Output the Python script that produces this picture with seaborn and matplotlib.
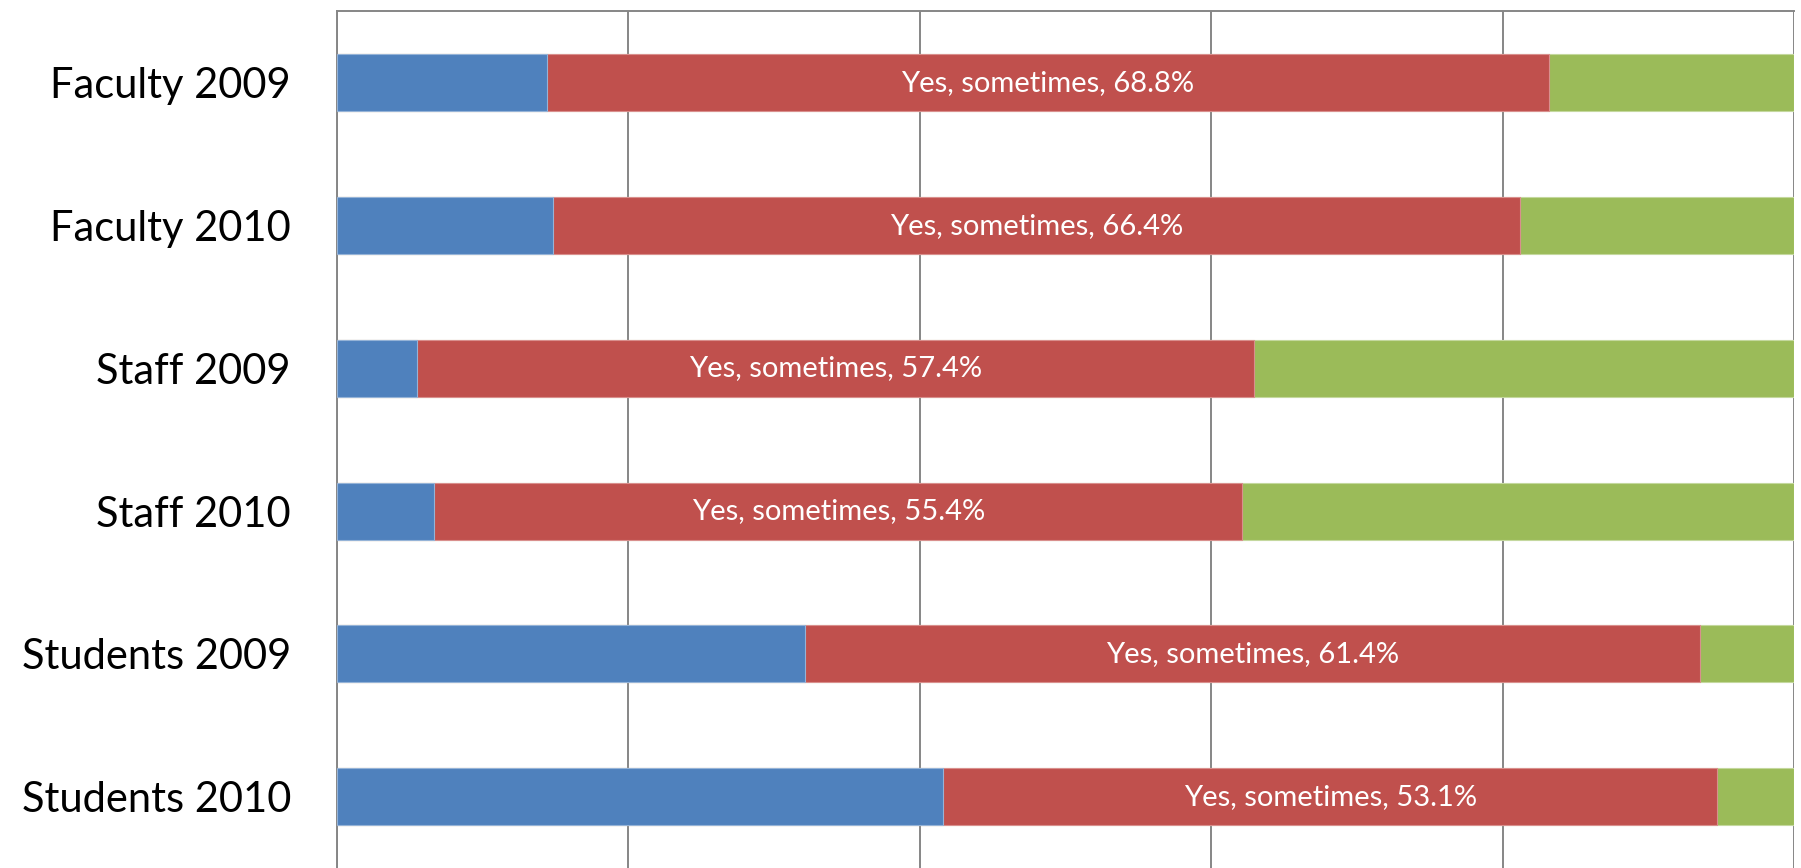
import pandas as pd
import matplotlib
matplotlib.use("Agg")
import matplotlib.pyplot as plt
import seaborn as sns

sns.set_theme(style="white")
plt.rcParams['font.family'] = ['Lato', 'DejaVu Sans']

# data (percent of respondents)
groups = ['Faculty 2009', 'Faculty 2010', 'Staff 2009', 'Staff 2010',
          'Students 2009', 'Students 2010']
no_pct = [14.4, 14.8, 5.5, 6.7, 32.1, 41.6]
sometimes_pct = [68.8, 66.4, 57.4, 55.4, 61.4, 53.1]
often_pct = [16.8, 18.8, 37.1, 37.9, 6.5, 5.3]

df = pd.DataFrame({'group': groups, 'no': no_pct,
                   'sometimes': sometimes_pct, 'often': often_pct})
df['upto_sometimes'] = df['no'] + df['sometimes']
df['total'] = df['upto_sometimes'] + df['often']

blue, red, green = '#4F81BD', '#C0504D', '#9BBB59'
grid_col = '#868686'

fig = plt.figure(figsize=(18.01, 8.68), dpi=100)
ax = fig.add_axes([0.187, 0.0, 0.8093, 0.9868])

# stack by drawing cumulative totals back to front
sns.barplot(data=df, x='total', y='group', orient='h', color=green,
            width=0.4, saturation=1, edgecolor='#c4d89e', linewidth=0.8, ax=ax, zorder=3)
sns.barplot(data=df, x='upto_sometimes', y='group', orient='h', color=red,
            width=0.4, saturation=1, edgecolor='#d98f8d', linewidth=0.8, ax=ax, zorder=3)
sns.barplot(data=df, x='no', y='group', orient='h', color=blue,
            width=0.4, saturation=1, edgecolor='#95b3d7', linewidth=0.8, ax=ax, zorder=3)

for i, row in df.iterrows():
    ax.text(row['no'] + row['sometimes'] / 2, i,
            f"Yes, sometimes, {row['sometimes']}%",
            ha='center', va='center', color='white', fontsize=21, zorder=4)

ax.set_xlim(0, 100)
ax.set_ylim(5.5, -0.5)
ax.set_xticks([0, 20, 40, 60, 80, 100])
ax.xaxis.grid(True, color=grid_col, linewidth=1.4, zorder=0)
ax.set_axisbelow(True)
ax.set_xticklabels([])
ax.set_xlabel('')
ax.set_ylabel('')
ax.tick_params(axis='y', length=0, pad=33, labelsize=30, labelcolor='black')
ax.tick_params(axis='x', length=0)
for side in ['top', 'left']:
    ax.spines[side].set_color(grid_col)
    ax.spines[side].set_linewidth(1.4)
ax.spines['right'].set_visible(False)
ax.spines['bottom'].set_visible(False)

fig.savefig('out.png', dpi=100)
